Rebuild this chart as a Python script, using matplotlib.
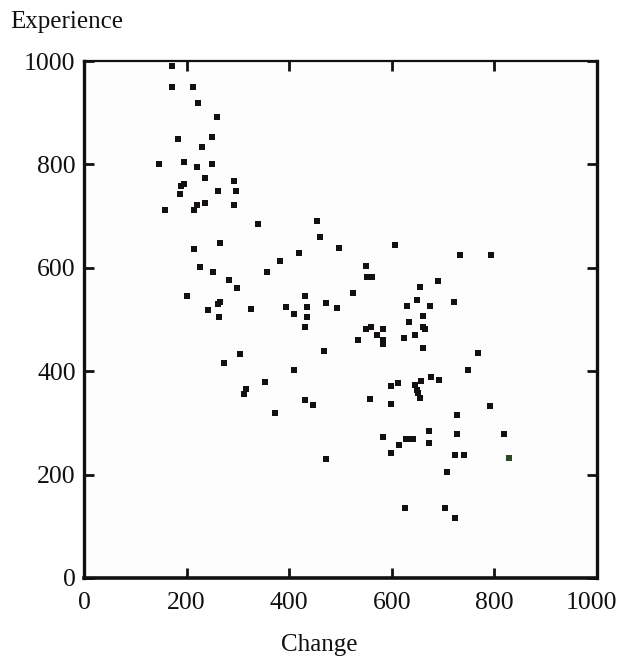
import matplotlib
matplotlib.use("Agg")
import matplotlib.pyplot as plt
import matplotlib.transforms as mtransforms

# Data (Change, Experience)
change = [171, 171, 213, 223, 260, 183, 250, 230, 147, 194, 220, 250, 235, 293,
          189, 194, 188, 261, 297, 158, 220, 215, 235, 293, 340, 266, 215, 226,
          252, 357, 283, 298, 200,
          265, 262, 241, 263, 325, 394, 410, 430, 435, 435, 430, 472, 467, 304,
          273, 409, 352, 316, 311, 430, 446, 373, 472,
          455, 461, 497, 607, 732, 794, 419, 382, 550, 551, 561, 524, 691, 654,
          649, 629, 675, 722, 493, 634, 660, 661, 665, 645, 624, 661,
          550, 560, 582, 572, 582, 582, 535, 768, 749,
          598, 613, 646, 649, 652, 654, 656, 677, 692, 557, 598, 791, 728,
          582, 615, 627, 634, 641, 672, 672, 728, 818, 598, 724, 740, 828,
          708, 625, 703, 724]
experience = [991, 949, 949, 918, 892, 849, 853, 833, 800, 805, 795, 801, 773, 768,
              758, 763, 742, 748, 748, 711, 722, 711, 726, 722, 685, 648, 637, 601,
              591, 592, 577, 561, 546,
              533, 530, 518, 505, 520, 525, 510, 545, 525, 505, 485, 531, 439, 433,
              416, 402, 380, 366, 356, 345, 335, 319, 230,
              690, 659, 639, 644, 624, 625, 628, 613, 603, 583, 583, 551, 574, 562,
              537, 526, 527, 533, 522, 496, 507, 486, 481, 470, 465, 445,
              481, 486, 481, 470, 461, 453, 460, 435, 403,
              371, 377, 373, 364, 358, 348, 382, 388, 383, 346, 336, 332, 316,
              273, 257, 268, 268, 268, 284, 262, 278, 278, 242, 237, 237, 233,
              205, 136, 136, 116]
highlight_index = [len(change) - 5]   # the one point printed in green

xticks = [0, 200, 400, 600, 800, 1000]
yticks = [0, 200, 400, 600, 800, 1000]
xlabel = "Change"
ylabel = "Experience"

font = ["Liberation Serif", "DejaVu Serif"]
plt.rcParams["font.family"] = font

W, H = 621, 656
fig = plt.figure(figsize=(W / 100, H / 100), dpi=100)
fig.patch.set_facecolor("white")
ax = fig.add_axes([84 / W, 1 - 578 / H, (597 - 84) / W, (578 - 61) / H])
ax.set_facecolor("#fdfdfd")

ax.scatter(change, experience, marker="s", s=14, color="#141010",
           linewidths=0, zorder=3)
hx = [change[i] for i in highlight_index]
hy = [experience[i] for i in highlight_index]
ax.scatter(hx, hy, marker="s", s=14, color="#2d4a22", linewidths=0, zorder=4)

ax.set_xlim(0, 1000)
ax.set_ylim(0, 1000)
ax.set_xticks(xticks)
ax.set_yticks(yticks)
ax.set_xticklabels([str(v) for v in xticks])
ax.set_yticklabels([str(v) for v in yticks])
ax.tick_params(axis="both", which="major", direction="in", length=7, width=2,
               color="#111111", labelsize=18.5, labelcolor="#111111",
               top=True, right=True)
ax.tick_params(axis="x", pad=10)
ax.tick_params(axis="y", pad=6)

# nudge the last x tick label inward so it stays inside the figure
last = ax.get_xticklabels()[-1]
last.set_transform(last.get_transform() +
                   mtransforms.ScaledTranslation(-6 / 100, 0, fig.dpi_scale_trans))

for side, lw in [("left", 2.4), ("bottom", 2.6), ("right", 2.4), ("top", 1.6)]:
    ax.spines[side].set_linewidth(lw)
    ax.spines[side].set_color("#111111")

fig.text(10 / W, 1 - 28 / H, ylabel, fontsize=18, color="#111111",
         ha="left", va="baseline")
fig.text(319 / W, 1 - 651 / H, xlabel, fontsize=18, color="#111111",
         ha="center", va="baseline")

fig.savefig("out.png", dpi=100)
